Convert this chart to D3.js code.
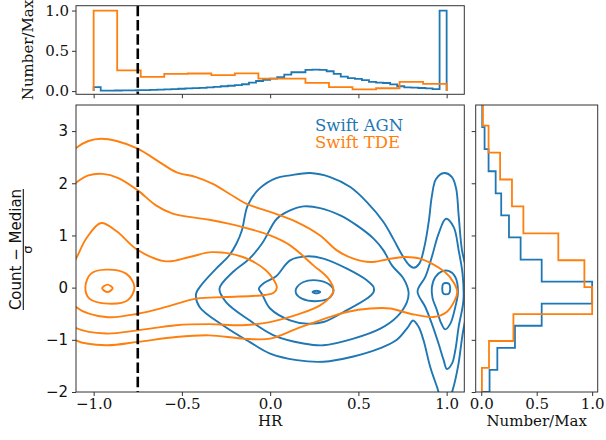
<!DOCTYPE html>
<html>
<head>
<meta charset="utf-8">
<script src="https://cdn.jsdelivr.net/npm/d3@7"></script>
<style>
  body { margin: 0; background: #fff; }
</style>
</head>
<body>
<div class="chart"></div>
<script>
// Histogram values (normalised to max)
const topBlueStart = -1.0, topBlueWidth = 0.04;
const topBlue = [0.048, 0.006, 0.006, 0.007, 0.008, 0.009, 0.011, 0.013, 0.015, 0.018,
    0.021, 0.025, 0.029, 0.033, 0.037, 0.041, 0.047, 0.053, 0.06, 0.066,
    0.075, 0.085, 0.105, 0.125, 0.14, 0.155, 0.172, 0.205, 0.234, 0.234,
    0.263, 0.266, 0.263, 0.246, 0.214, 0.18, 0.16, 0.152, 0.135, 0.115,
    0.105, 0.1, 0.082, 0.06, 0.045, 0.042, 0.038, 0.033, 0.025, 1.0];
const topOrangeStart = -1.0, topOrangeWidth = 2 / 15;
const topOrange = [1.0, 0.258, 0.177, 0.214, 0.218, 0.197, 0.221, 0.155, 0.155, 0.103,
    0.049, 0.021, 0.035, 0.115, 0.09];
const rightBlueStart = -2.0, rightBlueWidth = 5.5 / 13;
const rightBlue = [0.075, 0.145, 0.304, 0.545, 1.0, 0.545, 0.355, 0.25, 0.18, 0.13, 0.066, 0.03, 0.009];
const rightOrangeStart = -2.054, rightOrangeWidth = 0.5158;
const rightOrange = [0.006, 0.07, 0.29, 1.0, 0.93, 0.695, 0.38, 0.277, 0.17, 0.066, 0.015];

// Density contours, [HR, (Count-Median)/sigma]
const agnOuter = [[-0.42, -0.12], [-0.39, 0.05], [-0.306, 0.364], [-0.231, 0.62], [-0.19, 0.85], [-0.16, 1.1],
    [-0.127, 1.577], [-0.061, 1.897], [0.034, 2.10], [0.113, 2.151], [0.227, 2.196], [0.34, 2.119],
    [0.454, 1.928], [0.548, 1.64], [0.642, 1.258], [0.70, 0.92], [0.745, 0.64], [0.785, 0.44], [0.813, 0.38],
    [0.845, 0.46], [0.875, 0.8], [0.9, 1.3], [0.916, 1.75], [0.94, 2.08], [0.986, 2.196], [1.03, 2.119],
    [1.054, 1.895], [1.068, 1.385], [1.087, 0.714], [1.12, 0.2], [1.12, -0.3], [1.09, -0.9], [1.065, -1.5],
    [1.035, -1.95], [1.0, -2.25], [0.96, -2.05], [0.945, -1.9], [0.907, -1.52], [0.869, -1.01], [0.841, -0.75],
    [0.81, -0.63], [0.78, -0.76], [0.718, -1.0], [0.624, -1.16], [0.472, -1.32], [0.302, -1.42], [0.151, -1.39],
    [0.0, -1.265], [-0.117, -1.04], [-0.268, -0.72], [-0.40, -0.37]];
const agnMain2 = [[-0.287, -0.02], [-0.211, 0.3], [-0.117, 0.556], [-0.045, 0.85], [0.038, 1.32], [0.113, 1.48],
    [0.189, 1.557], [0.283, 1.525], [0.397, 1.385], [0.491, 1.193], [0.586, 0.94], [0.642, 0.714], [0.69, 0.427],
    [0.756, 0.172], [0.784, -0.084], [0.775, -0.276], [0.718, -0.56], [0.624, -0.786], [0.472, -0.977],
    [0.302, -1.105], [0.189, -1.07], [0.02, -0.914], [-0.117, -0.626], [-0.25, -0.276]];
const agnMain3 = [[-0.064, -0.02], [-0.035, 0.09], [0.034, 0.22], [0.113, 0.523], [0.208, 0.6], [0.302, 0.555],
    [0.435, 0.363], [0.548, 0.14], [0.586, 0.012], [0.586, -0.084], [0.548, -0.21], [0.416, -0.467],
    [0.302, -0.659], [0.208, -0.69], [0.113, -0.627], [0.0, -0.40], [-0.045, -0.13]];
const agnMain4 = [[0.147, -0.02], [0.189, 0.108], [0.265, 0.14], [0.331, 0.07], [0.359, -0.05], [0.331, -0.21],
    [0.255, -0.26], [0.18, -0.21], [0.147, -0.116]];
const agnMain5 = [[0.24, -0.084], [0.262, -0.06], [0.284, -0.084], [0.262, -0.108]];
const agnHard2 = [[0.835, -0.07], [0.879, 0.205], [0.916, 0.588], [0.954, 1.03], [0.996, 1.32], [1.04, 1.16],
    [1.068, 0.715], [1.09, 0.268], [1.095, -0.243], [1.068, -0.753], [1.049, -1.2], [1.03, -1.457],
    [1.001, -1.56], [0.983, -1.39], [0.954, -1.072], [0.916, -0.69], [0.879, -0.371]];
const agnHard3 = [[0.916, 0.0], [0.935, 0.2], [0.973, 0.31], [1.011, 0.32], [1.049, 0.205], [1.064, -0.084],
    [1.049, -0.37], [1.021, -0.69], [0.992, -0.80], [0.965, -0.65], [0.945, -0.435], [0.92, -0.2]];
const agnHard4 = [[0.975, -0.02], [0.98, 0.07], [0.997, 0.09], [1.014, 0.07], [1.02, -0.02], [1.014, -0.11],
    [0.997, -0.13], [0.98, -0.11]];

const tdeOuter = [[-1.1, 2.674], [-1.03, 2.81], [-0.958, 2.854], [-0.87, 2.81], [-0.75, 2.663], [-0.627, 2.406],
    [-0.533, 2.215], [-0.42, 2.119], [-0.325, 1.99], [-0.231, 1.80], [-0.136, 1.61], [0.0, 1.45], [0.151, 1.257],
    [0.283, 1.0], [0.378, 0.714], [0.472, 0.555], [0.567, 0.49], [0.66, 0.54], [0.756, 0.587], [0.85, 0.555],
    [0.99, 0.3], [1.04, 0.1], [1.06, -0.08], [1.045, -0.25], [1.0, -0.467], [0.926, -0.563], [0.794, -0.5],
    [0.68, -0.4], [0.567, -0.4], [0.435, -0.467], [0.283, -0.626], [0.151, -0.786], [0.0, -0.977],
    [-0.155, -0.977], [-0.344, -0.914], [-0.533, -0.946], [-0.75, -1.04], [-0.93, -1.105], [-1.1, -1.01],
    [-1.2, -0.7], [-1.25, 0.8], [-1.2, 2.3]];
const tde2 = [[-1.1, 2.01], [-1.03, 2.15], [-0.948, 2.18], [-0.86, 2.1], [-0.75, 1.864], [-0.647, 1.577],
    [-0.552, 1.418], [-0.344, 1.30], [-0.155, 1.161], [0.0, 1.0], [0.113, 0.81], [0.245, 0.427], [0.33, 0.172],
    [0.359, -0.05], [0.34, -0.18], [0.283, -0.34], [0.17, -0.5], [0.0, -0.66], [-0.155, -0.72], [-0.344, -0.70],
    [-0.533, -0.72], [-0.75, -0.818], [-0.93, -0.88], [-1.1, -0.774], [-1.2, -0.5], [-1.25, 0.6], [-1.2, 1.7]];
const tde3 = [[-1.1, 0.556], [-1.04, 0.95], [-0.958, 1.238], [-0.87, 1.08], [-0.75, 0.72], [-0.59, 0.504],
    [-0.457, 0.587], [-0.33, 0.68], [-0.155, 0.587], [-0.023, 0.33], [0.02, 0.15], [0.038, 0.0], [0.02, -0.1],
    [-0.03, -0.14], [-0.249, -0.18], [-0.42, -0.21], [-0.59, -0.37], [-0.75, -0.50], [-0.93, -0.563],
    [-1.1, -0.37], [-1.18, 0.1]];
const tde4 = [[-1.047, 0.012], [-1.015, 0.268], [-0.93, 0.345], [-0.816, 0.268], [-0.769, 0.012],
    [-0.807, -0.243], [-0.92, -0.307], [-1.024, -0.211]];
const tde5 = [[-0.952, -0.013], [-0.922, 0.057], [-0.892, -0.013], [-0.922, -0.083]];

const agnContours = [agnOuter, agnMain2, agnMain3, agnMain4, agnMain5, agnHard2, agnHard3, agnHard4];
const tdeContours = [tdeOuter, tde2, tde3, tde4, tde5];

const hrCut = -0.75;
const xTicks = [-1.0, -0.5, 0.0, 0.5, 1.0];
const yTicks = [-2, -1, 0, 1, 2, 3];
const histTicks = [0.0, 0.5, 1.0];

const blue = "#1f77b4", orange = "#ff7f0e";
const serif = "'DejaVu Serif', serif";
const sans = "'DejaVu Sans', sans-serif";

const svg = d3.select(".chart").append("svg")
    .attr("width", 606).attr("height", 440);

// Panel boxes
const main = { left: 76, right: 464.3, top: 105, bottom: 392 };
const topP = { left: 76, right: 464.3, top: 5.7, bottom: 94.3 };
const rightP = { left: 475.7, right: 597.7, top: 105, bottom: 392 };

const x = d3.scaleLinear().domain([-1.1, 1.1]).range([main.left, main.right]);
const y = d3.scaleLinear().domain([-2, 3.5]).range([main.bottom, main.top]);
const yTop = d3.scaleLinear().domain([-0.04, 1.06]).range([topP.bottom, topP.top]);
const xRight = d3.scaleLinear().domain([-0.05, 1.05]).range([rightP.left, rightP.right]);

const defs = svg.append("defs");
function clip(id, p) {
    defs.append("clipPath").attr("id", id).append("rect")
        .attr("x", p.left).attr("y", p.top)
        .attr("width", p.right - p.left).attr("height", p.bottom - p.top);
}
clip("clipMain", main); clip("clipTop", topP); clip("clipRight", rightP);

// ---- main panel: contours
const contourLine = d3.line()
    .x(d => x(d[0])).y(d => y(d[1]))
    .curve(d3.curveCatmullRomClosed.alpha(0.5));

const mainG = svg.append("g").attr("clip-path", "url(#clipMain)");
mainG.selectAll("path.agn").data(agnContours).join("path")
    .attr("class", "agn").attr("d", contourLine)
    .attr("fill", "none").attr("stroke", blue).attr("stroke-width", 1.9);
mainG.selectAll("path.tde").data(tdeContours).join("path")
    .attr("class", "tde").attr("d", contourLine)
    .attr("fill", "none").attr("stroke", orange).attr("stroke-width", 1.9);
mainG.append("line")
    .attr("x1", x(hrCut)).attr("x2", x(hrCut))
    .attr("y1", main.top).attr("y2", main.bottom)
    .attr("stroke", "#000").attr("stroke-width", 2.6).attr("stroke-dasharray", "10.5,3.8");

// legend text
svg.append("text").attr("x", 315).attr("y", 131)
    .style("font-family", serif).style("font-size", "16.5px").attr("fill", blue).text("Swift AGN");
svg.append("text").attr("x", 315).attr("y", 147.5)
    .style("font-family", serif).style("font-size", "16.5px").attr("fill", orange).text("Swift TDE");

// ---- histogram step outlines
function stepPoints(start, width, vals) {
    const pts = [[start, 0]];
    vals.forEach((v, i) => {
        pts.push([start + i * width, v]);
        pts.push([start + (i + 1) * width, v]);
    });
    pts.push([start + vals.length * width, 0]);
    return pts;
}

const topG = svg.append("g").attr("clip-path", "url(#clipTop)");
const topLine = d3.line().x(d => x(d[0])).y(d => yTop(d[1]));
topG.append("path").attr("d", topLine(stepPoints(topBlueStart, topBlueWidth, topBlue)))
    .attr("fill", "none").attr("stroke", blue).attr("stroke-width", 1.8);
topG.append("path").attr("d", topLine(stepPoints(topOrangeStart, topOrangeWidth, topOrange)))
    .attr("fill", "none").attr("stroke", orange).attr("stroke-width", 1.8);
topG.append("line")
    .attr("x1", x(hrCut)).attr("x2", x(hrCut))
    .attr("y1", topP.top).attr("y2", topP.bottom)
    .attr("stroke", "#000").attr("stroke-width", 2.6).attr("stroke-dasharray", "10.5,3.8");

const rightG = svg.append("g").attr("clip-path", "url(#clipRight)");
const rightLine = d3.line().x(d => xRight(d[1])).y(d => y(d[0]));
rightG.append("path").attr("d", rightLine(stepPoints(rightBlueStart, rightBlueWidth, rightBlue)))
    .attr("fill", "none").attr("stroke", blue).attr("stroke-width", 1.8);
rightG.append("path").attr("d", rightLine(stepPoints(rightOrangeStart, rightOrangeWidth, rightOrange)))
    .attr("fill", "none").attr("stroke", orange).attr("stroke-width", 1.8);

// ---- axes
function styleAxis(g, font) {
    g.select(".domain").remove();
    g.selectAll(".tick line").attr("stroke", "#333").attr("stroke-width", 1);
    g.selectAll(".tick text").style("font-family", font).style("font-size", "15px").attr("fill", "#111");
}
const fmt1 = d => d3.format(".1f")(d).replace("-", "\u2212");
const fmt0 = d => d3.format("d")(d).replace("-", "\u2212");

svg.append("g").attr("transform", `translate(0,${main.bottom})`)
    .call(d3.axisBottom(x).tickValues(xTicks).tickFormat(fmt1).tickSize(4).tickPadding(2))
    .call(g => styleAxis(g, serif));
svg.append("g").attr("transform", `translate(${main.left},0)`)
    .call(d3.axisLeft(y).tickValues(yTicks).tickFormat(fmt0).tickSize(4).tickPadding(4))
    .call(g => styleAxis(g, sans));

svg.append("g").attr("transform", `translate(0,${topP.bottom})`)
    .call(d3.axisBottom(x).tickValues(xTicks).tickFormat("").tickSize(4))
    .call(g => styleAxis(g, serif));
svg.append("g").attr("transform", `translate(${topP.left},0)`)
    .call(d3.axisLeft(yTop).tickValues(histTicks).tickFormat(fmt1).tickSize(4).tickPadding(3))
    .call(g => styleAxis(g, serif));

svg.append("g").attr("transform", `translate(0,${rightP.bottom})`)
    .call(d3.axisBottom(xRight).tickValues(histTicks).tickFormat(fmt1).tickSize(4).tickPadding(2))
    .call(g => styleAxis(g, serif));
svg.append("g").attr("transform", `translate(${rightP.left},0)`)
    .call(d3.axisLeft(y).tickValues(yTicks).tickFormat("").tickSize(4))
    .call(g => styleAxis(g, sans));

// frames
[main, topP, rightP].forEach(p => {
    svg.append("rect").attr("x", p.left).attr("y", p.top)
        .attr("width", p.right - p.left).attr("height", p.bottom - p.top)
        .attr("fill", "none").attr("stroke", "#333").attr("stroke-width", 1);
});

// ---- axis labels
svg.append("text").attr("x", (main.left + main.right) / 2).attr("y", 426)
    .attr("text-anchor", "middle").style("font-family", serif).style("font-size", "15px")
    .attr("fill", "#111").text("HR");
svg.append("text").attr("x", (rightP.left + rightP.right) / 2).attr("y", 426)
    .attr("text-anchor", "middle").style("font-family", serif).style("font-size", "15px")
    .attr("fill", "#111").text("Number/Max");
svg.append("text")
    .attr("transform", `translate(33,${(topP.top + topP.bottom) / 2}) rotate(-90)`)
    .attr("text-anchor", "middle").style("font-family", serif).style("font-size", "15px")
    .attr("fill", "#111").text("Number/Max");

// fraction label (Count - Median) / sigma
const frac = svg.append("g")
    .attr("transform", `translate(0,${(main.top + main.bottom) / 2 + 1}) rotate(-90)`);
frac.append("text").attr("x", 0).attr("y", 20.5).attr("text-anchor", "middle")
    .style("font-family", sans).style("font-size", "15px").attr("fill", "#111")
    .text("Count \u2212 Median");
frac.append("line").attr("x1", -60.5).attr("x2", 60.5).attr("y1", 23.3).attr("y2", 23.3)
    .attr("stroke", "#111").attr("stroke-width", 1.1);
frac.append("text").attr("x", 0).attr("y", 31.5).attr("text-anchor", "middle")
    .style("font-family", sans).style("font-size", "13px").attr("fill", "#111")
    .text("\u03c3");
</script>
</body>
</html>
